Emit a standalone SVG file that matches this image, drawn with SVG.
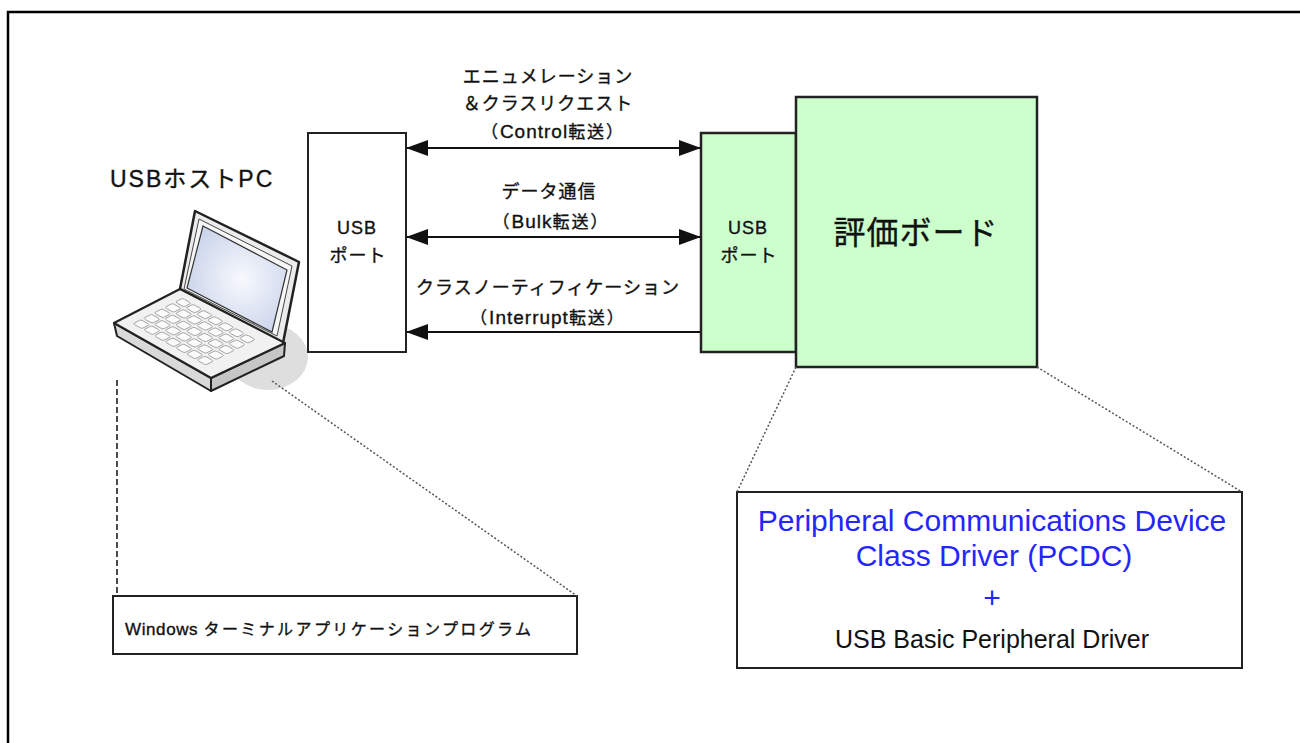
<svg xmlns="http://www.w3.org/2000/svg" width="1300" height="743" viewBox="0 0 1300 743">
  <defs>
    <style>
      .jp { font-family: "Liberation Sans", "Noto Sans CJK JP", sans-serif; fill: #111; stroke: #111; stroke-width: 0.35px; }
      .lbl { font-size: 18px; letter-spacing: 1px; text-anchor: middle; }
      .sub { font-size: 17px; letter-spacing: 2px; text-anchor: middle; }
      .lat { font-size: 19px; letter-spacing: 1px; }
      .box { fill: #fff; stroke: #222; stroke-width: 2; }
      .green { fill: #ccffcc; stroke: #222; stroke-width: 2.5; }
      .link { stroke: #111; stroke-width: 2; fill: none; }
      .dot { stroke: #555; stroke-width: 1.5; stroke-dasharray: 2 2; fill: none; }
      .key { fill: #fbfbfb; stroke: #9a9a9a; stroke-width: 0.9; }
    </style>
    <marker id="ah" viewBox="0 0 22 16" refX="21" refY="8" markerWidth="22" markerHeight="16" markerUnits="userSpaceOnUse" orient="auto-start-reverse">
      <path d="M0,0 L22,8 L0,16 Z" fill="#111"/>
    </marker>
    <radialGradient id="scr" cx="0.55" cy="0.5" r="0.6">
      <stop offset="0" stop-color="#f7f9fd"/>
      <stop offset="1" stop-color="#c9d3ea"/>
    </radialGradient>
  </defs>

  <!-- page frame -->
  <path d="M8,743 L8,12 L1300,12" fill="none" stroke="#000" stroke-width="2.5"/>

  <!-- host PC -->
  <g id="host-pc">
    <text class="jp" x="110" y="187" font-size="23" letter-spacing="2">USBホストPC</text>
    <ellipse cx="268" cy="357" rx="40" ry="33" fill="#dedede"/>
    <!-- lid -->
    <polygon points="195,211 299,262 283,343 180,289" fill="#ececec" stroke="#222" stroke-width="2.5" stroke-linejoin="round"/>
    <polygon points="199,219 292,266 277,336 184,289" fill="#f6f6f6" stroke="#444" stroke-width="1"/>
    <polygon points="203,226 287,270 272,332 187,288" fill="url(#scr)" stroke="#333" stroke-width="1.2"/>
    <!-- base -->
    <polygon points="114,323 211,378 211,391 117,336" fill="#d9d9d9" stroke="#222" stroke-width="2" stroke-linejoin="round"/>
    <polygon points="211,378 285,343 284,356 211,391" fill="#c6c6c6" stroke="#222" stroke-width="2" stroke-linejoin="round"/>
    <polygon points="114,323 180,289 285,343 211,378" fill="#f1f1f1" stroke="#222" stroke-width="2.2" stroke-linejoin="round"/>
    <!-- keyboard -->
    <g transform="matrix(97,55,66,-34,114,323)" class="key">
      <rect x="0.10" y="0.14" width="0.09" height="0.12" rx="0.02" vector-effect="non-scaling-stroke"/>
      <rect x="0.21" y="0.14" width="0.09" height="0.12" rx="0.02" vector-effect="non-scaling-stroke"/>
      <rect x="0.32" y="0.14" width="0.09" height="0.12" rx="0.02" vector-effect="non-scaling-stroke"/>
      <rect x="0.43" y="0.14" width="0.09" height="0.12" rx="0.02" vector-effect="non-scaling-stroke"/>
      <rect x="0.54" y="0.14" width="0.09" height="0.12" rx="0.02" vector-effect="non-scaling-stroke"/>
      <rect x="0.65" y="0.14" width="0.09" height="0.12" rx="0.02" vector-effect="non-scaling-stroke"/>
      <rect x="0.76" y="0.14" width="0.09" height="0.12" rx="0.02" vector-effect="non-scaling-stroke"/>
      <rect x="0.10" y="0.30" width="0.09" height="0.12" rx="0.02" vector-effect="non-scaling-stroke"/>
      <rect x="0.21" y="0.30" width="0.09" height="0.12" rx="0.02" vector-effect="non-scaling-stroke"/>
      <rect x="0.32" y="0.30" width="0.09" height="0.12" rx="0.02" vector-effect="non-scaling-stroke"/>
      <rect x="0.43" y="0.30" width="0.09" height="0.12" rx="0.02" vector-effect="non-scaling-stroke"/>
      <rect x="0.54" y="0.30" width="0.09" height="0.12" rx="0.02" vector-effect="non-scaling-stroke"/>
      <rect x="0.65" y="0.30" width="0.09" height="0.12" rx="0.02" vector-effect="non-scaling-stroke"/>
      <rect x="0.76" y="0.30" width="0.09" height="0.12" rx="0.02" vector-effect="non-scaling-stroke"/>
      <rect x="0.10" y="0.46" width="0.09" height="0.12" rx="0.02" vector-effect="non-scaling-stroke"/>
      <rect x="0.21" y="0.46" width="0.09" height="0.12" rx="0.02" vector-effect="non-scaling-stroke"/>
      <rect x="0.32" y="0.46" width="0.09" height="0.12" rx="0.02" vector-effect="non-scaling-stroke"/>
      <rect x="0.43" y="0.46" width="0.09" height="0.12" rx="0.02" vector-effect="non-scaling-stroke"/>
      <rect x="0.54" y="0.46" width="0.09" height="0.12" rx="0.02" vector-effect="non-scaling-stroke"/>
      <rect x="0.65" y="0.46" width="0.09" height="0.12" rx="0.02" vector-effect="non-scaling-stroke"/>
      <rect x="0.76" y="0.46" width="0.09" height="0.12" rx="0.02" vector-effect="non-scaling-stroke"/>
      <rect x="0.10" y="0.62" width="0.09" height="0.12" rx="0.02" vector-effect="non-scaling-stroke"/>
      <rect x="0.21" y="0.62" width="0.09" height="0.12" rx="0.02" vector-effect="non-scaling-stroke"/>
      <rect x="0.32" y="0.62" width="0.09" height="0.12" rx="0.02" vector-effect="non-scaling-stroke"/>
      <rect x="0.43" y="0.62" width="0.09" height="0.12" rx="0.02" vector-effect="non-scaling-stroke"/>
      <rect x="0.54" y="0.62" width="0.09" height="0.12" rx="0.02" vector-effect="non-scaling-stroke"/>
      <rect x="0.65" y="0.62" width="0.09" height="0.12" rx="0.02" vector-effect="non-scaling-stroke"/>
      <rect x="0.76" y="0.62" width="0.09" height="0.12" rx="0.02" vector-effect="non-scaling-stroke"/>
      <rect x="0.10" y="0.78" width="0.09" height="0.11" rx="0.02" vector-effect="non-scaling-stroke"/>
      <rect x="0.21" y="0.78" width="0.09" height="0.11" rx="0.02" vector-effect="non-scaling-stroke"/>
      <rect x="0.32" y="0.78" width="0.09" height="0.11" rx="0.02" vector-effect="non-scaling-stroke"/>
      <rect x="0.43" y="0.78" width="0.09" height="0.11" rx="0.02" vector-effect="non-scaling-stroke"/>
      <rect x="0.54" y="0.78" width="0.09" height="0.11" rx="0.02" vector-effect="non-scaling-stroke"/>
      <rect x="0.65" y="0.78" width="0.09" height="0.11" rx="0.02" vector-effect="non-scaling-stroke"/>
      <rect x="0.76" y="0.78" width="0.09" height="0.11" rx="0.02" vector-effect="non-scaling-stroke"/>
    </g>
  </g>

  <!-- host USB port -->
  <g id="host-port">
    <rect class="box" x="308" y="133" width="98" height="219"/>
    <text class="jp lbl" x="357" y="234">USB</text>
    <text class="jp lbl" x="358" y="262" letter-spacing="2">ポート</text>
  </g>

  <!-- device USB port -->
  <g id="device-port">
    <rect class="green" x="701" y="133" width="95" height="219"/>
    <text class="jp lbl" x="748" y="234">USB</text>
    <text class="jp lbl" x="749" y="262" letter-spacing="2">ポート</text>
  </g>

  <!-- evaluation board -->
  <g id="board">
    <rect class="green" x="796" y="97" width="241" height="270"/>
    <text class="jp" x="916" y="244" font-size="32" text-anchor="middle" letter-spacing="1">評価ボード</text>
  </g>

  <!-- host application -->
  <g id="host-app">
    <rect class="box" x="113" y="596" width="464" height="58"/>
    <text class="jp" x="125" y="635" font-size="16" letter-spacing="2.4"><tspan font-size="17" letter-spacing="0.6">Windows </tspan>ターミナルアプリケーションプログラム</text>
  </g>

  <!-- device driver stack -->
  <g id="driver-stack">
    <rect class="box" x="737" y="492" width="505" height="176"/>
    <g font-family="Liberation Sans, Arial, sans-serif" text-anchor="middle">
      <text x="992" y="531" font-size="30" fill="#2525ff">Peripheral Communications Device</text>
      <text x="994" y="566" font-size="30" fill="#2525ff">Class Driver (PCDC)</text>
      <text x="992" y="608" font-size="30" fill="#2525ff">+</text>
      <text x="992" y="648" font-size="25" fill="#111">USB Basic Peripheral Driver</text>
    </g>
  </g>

  <!-- transfers and callouts -->
  <g id="connectors">
    <line class="link" x1="407" y1="148" x2="700" y2="148" marker-start="url(#ah)" marker-end="url(#ah)"/>
    <line class="link" x1="407" y1="237" x2="700" y2="237" marker-start="url(#ah)" marker-end="url(#ah)"/>
    <line class="link" x1="407" y1="332" x2="700" y2="332" marker-start="url(#ah)"/>

    <line x1="117" y1="380" x2="117" y2="596" stroke="#111" stroke-width="1.5" stroke-dasharray="6 3"/>
    <line class="dot" x1="272" y1="381" x2="577" y2="596"/>
    <line class="dot" x1="796" y1="367" x2="737" y2="492"/>
    <line class="dot" x1="1037" y1="367" x2="1242" y2="492"/>
  </g>

  <!-- transfer labels -->
  <g id="labels">
    <text class="jp lbl" x="548" y="83">エニュメレーション</text>
    <text class="jp lbl" x="548" y="110">＆クラスリクエスト</text>
    <text class="jp sub" x="553" y="138">（<tspan class="lat">Control</tspan>転送）</text>
    <text class="jp lbl" x="549" y="198">データ通信</text>
    <text class="jp sub" x="551" y="228">（<tspan class="lat">Bulk</tspan>転送）</text>
    <text class="jp sub" x="548" y="324">（<tspan class="lat">Interrupt</tspan>転送）</text>
    <text class="jp lbl" x="548" y="294">クラスノーティフィケーション</text>
  </g>
</svg>
